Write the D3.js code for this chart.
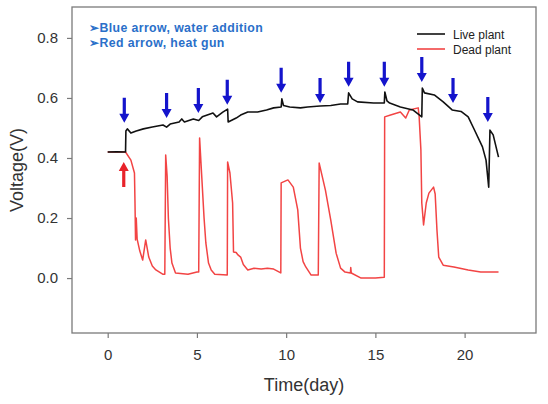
<!DOCTYPE html>
<html>
<head>
<meta charset="utf-8">
<script src="https://cdn.jsdelivr.net/npm/d3@7"></script>
<style>
  html, body { margin: 0; padding: 0; background: #fff; }
  svg { display: block; }
</style>
</head>
<body>
<svg id="chart" width="548" height="404"></svg>
<script>
// ---------------- data ----------------
const xTicks = [0, 5, 10, 15, 20];
const yTicks = [0.0, 0.2, 0.4, 0.6, 0.8];
const seriesNames = ["Live plant", "Dead plant"];

// Live plant: [day, voltage]
const livePlant = [
  [0, 0.42], [0.5, 0.421], [1.0, 0.42], [1.02, 0.49], [1.1, 0.497], [1.3, 0.483], [1.6, 0.49],
  [2.0, 0.497], [2.5, 0.503], [3.1, 0.51], [3.3, 0.503], [3.5, 0.513], [4.0, 0.52],
  [4.15, 0.53], [4.3, 0.52], [4.8, 0.53], [5.1, 0.525], [5.3, 0.537], [5.9, 0.55],
  [6.1, 0.537], [6.45, 0.553], [6.72, 0.563], [6.75, 0.52], [7.2, 0.533], [7.45, 0.543],
  [7.85, 0.553], [8.4, 0.553], [8.9, 0.56], [9.3, 0.567], [9.72, 0.57], [9.76, 0.597],
  [9.85, 0.575], [10.2, 0.57], [10.8, 0.567], [11.2, 0.57], [11.9, 0.573], [12.5, 0.575],
  [13.05, 0.58], [13.45, 0.58], [13.5, 0.617], [13.7, 0.597], [14.0, 0.587], [14.9, 0.583],
  [15.5, 0.583], [15.53, 0.62], [15.65, 0.59], [15.8, 0.583], [16.4, 0.57], [17.1, 0.56],
  [17.6, 0.537], [17.63, 0.633], [17.75, 0.617], [18.3, 0.61], [18.8, 0.587], [19.3, 0.56],
  [19.8, 0.555], [20.2, 0.537], [20.5, 0.5], [21.0, 0.437], [21.2, 0.393], [21.35, 0.303],
  [21.42, 0.493], [21.6, 0.477], [21.9, 0.403]
];

// Dead plant: [day, voltage]
const deadPlant = [
  [0, 0.42], [1.0, 0.42], [1.3, 0.393], [1.5, 0.35], [1.53, 0.25], [1.56, 0.127],
  [1.6, 0.2], [1.65, 0.13], [1.8, 0.09], [1.96, 0.06], [2.13, 0.127], [2.3, 0.07],
  [2.5, 0.04], [2.7, 0.027], [3.08, 0.013], [3.2, 0.013], [3.25, 0.41], [3.33, 0.34], [3.4, 0.2],
  [3.5, 0.1], [3.6, 0.05], [3.8, 0.017], [4.5, 0.013], [5.0, 0.02], [5.1, 0.02], [5.15, 0.467],
  [5.25, 0.36], [5.4, 0.2], [5.5, 0.117], [5.65, 0.05], [5.8, 0.027], [6.0, 0.013], [6.7, 0.01],
  [6.72, 0.387], [6.85, 0.35], [7.0, 0.25], [7.05, 0.087], [7.2, 0.085], [7.3, 0.077],
  [7.45, 0.07], [7.6, 0.045], [7.85, 0.027], [8.2, 0.033], [8.6, 0.03], [8.95, 0.033], [9.3, 0.03],
  [9.7, 0.017], [9.72, 0.317], [10.1, 0.327], [10.4, 0.303], [10.65, 0.227], [10.8, 0.1],
  [10.95, 0.055], [11.1, 0.037], [11.4, 0.01], [11.8, 0.01], [11.85, 0.383], [12.2, 0.293],
  [12.5, 0.193], [12.8, 0.083], [13.05, 0.033], [13.3, 0.02], [13.6, 0.017], [13.62, 0.035],
  [13.65, 0.017], [14.2, 0.0], [15.0, 0.0], [15.5, 0.003], [15.52, 0.537], [15.85, 0.543],
  [16.4, 0.553], [16.6, 0.54], [16.7, 0.533], [16.9, 0.56], [17.4, 0.567], [17.45, 0.54],
  [17.55, 0.427], [17.6, 0.25], [17.7, 0.177], [17.85, 0.25], [18.0, 0.283], [18.26, 0.303],
  [18.35, 0.28], [18.45, 0.16], [18.55, 0.07], [18.8, 0.043], [19.4, 0.037], [20.2, 0.027],
  [20.9, 0.02], [21.9, 0.02]
];

// Water addition arrows (blue): day, tip voltage
const waterDays = [0.93, 3.3, 5.08, 6.7, 9.72, 11.9, 13.5, 15.5, 17.6, 19.35, 21.3];
const waterTips = [0.517, 0.533, 0.55, 0.577, 0.617, 0.583, 0.637, 0.637, 0.653, 0.583, 0.52];
// Heat gun arrow (red): day, tip voltage
const heatDays = [0.9];
const heatTips = [0.387];

const noteLines = ["\u27A2Blue arrow, water addition", "\u27A2Red arrow, heat gun"];

// ---------------- layout ----------------
const svg = d3.select("#chart");
const L = 72, R = 536, T = 7, B = 333;
const x = d3.scaleLinear().domain([-2, 24]).range([L, R]);
const y = d3.scaleLinear().domain([-0.183, 0.903]).range([B, T]);

const axisColor = "#7a7a7a";
const textColor = "#333";
const font = "Arial, 'Liberation Sans', sans-serif";

// axes
const xAxis = svg.append("g").attr("transform", `translate(0,${B})`)
  .call(d3.axisBottom(x).tickValues(xTicks).tickFormat(d3.format("d")).tickSize(5).tickPadding(11));
const yAxis = svg.append("g").attr("transform", `translate(${L},0)`)
  .call(d3.axisLeft(y).tickValues(yTicks).tickFormat(d3.format(".1f")).tickSize(5).tickPadding(9));
[xAxis, yAxis].forEach(g => {
  g.select(".domain").remove();
  g.selectAll("line").attr("stroke", axisColor).attr("stroke-width", 1.2);
  g.selectAll("text").attr("fill", textColor).style("font-family", font).style("font-size", "15px");
});

// frame
svg.append("rect").attr("x", L).attr("y", T).attr("width", R - L).attr("height", B - T)
  .attr("fill", "none").attr("stroke", axisColor).attr("stroke-width", 1.3);

// lines
const line = d3.line().x(d => x(d[0])).y(d => y(d[1]));
svg.append("path").datum(deadPlant).attr("d", line)
  .attr("fill", "none").attr("stroke", "#f24444").attr("stroke-width", 1.5).attr("stroke-linejoin", "round");
svg.append("path").datum(livePlant).attr("d", line)
  .attr("fill", "none").attr("stroke", "#111").attr("stroke-width", 1.6).attr("stroke-linejoin", "round");

// arrows
function arrowPath(cx, tipY, dir) {
  // dir = 1: pointing down (tail above), dir = -1: pointing up
  const len = 25, headL = 9, headW = 5, shaftW = 1.6;
  const tail = tipY - dir * len, neck = tipY - dir * headL;
  return `M${cx - shaftW},${tail} L${cx + shaftW},${tail} L${cx + shaftW},${neck} L${cx + headW},${neck}` +
         ` L${cx},${tipY} L${cx - headW},${neck} L${cx - shaftW},${neck} Z`;
}
svg.append("g").selectAll("path").data(d3.zip(waterDays, waterTips)).join("path")
  .attr("d", d => arrowPath(x(d[0]), y(d[1]), 1))
  .attr("fill", "#1414cc");
svg.append("g").selectAll("path").data(d3.zip(heatDays, heatTips)).join("path")
  .attr("d", d => arrowPath(x(d[0]), y(d[1]), -1))
  .attr("fill", "#e8232a");

// annotation
svg.append("g").selectAll("text").data(noteLines).join("text")
  .attr("x", 89).attr("y", (d, i) => 32 + i * 15)
  .attr("fill", "#2a6fc9").style("font-family", font).style("font-weight", "bold")
  .style("font-size", "12.3px").style("letter-spacing", "0.4px")
  .text(d => d);

// legend
const legColors = ["#111", "#f24444"];
const leg = svg.append("g").selectAll("g").data(seriesNames).join("g")
  .attr("transform", (d, i) => `translate(417,${34 + i * 15})`);
leg.append("line").attr("x1", 0).attr("x2", 28).attr("y1", 0).attr("y2", 0)
  .attr("stroke", (d, i) => legColors[i]).attr("stroke-width", 1.6);
leg.append("text").attr("x", 36).attr("y", 4.5).text(d => d)
  .attr("fill", "#222").style("font-family", font).style("font-size", "12px");

// axis titles
svg.append("text").attr("x", (L + R) / 2).attr("y", 391).attr("text-anchor", "middle")
  .attr("fill", textColor).style("font-family", font).style("font-size", "18px").text("Time(day)");
svg.append("text").attr("transform", `translate(23,${(T + B) / 2}) rotate(-90)`).attr("text-anchor", "middle")
  .attr("fill", textColor).style("font-family", font).style("font-size", "18px").text("Voltage(V)");
</script>
</body>
</html>
